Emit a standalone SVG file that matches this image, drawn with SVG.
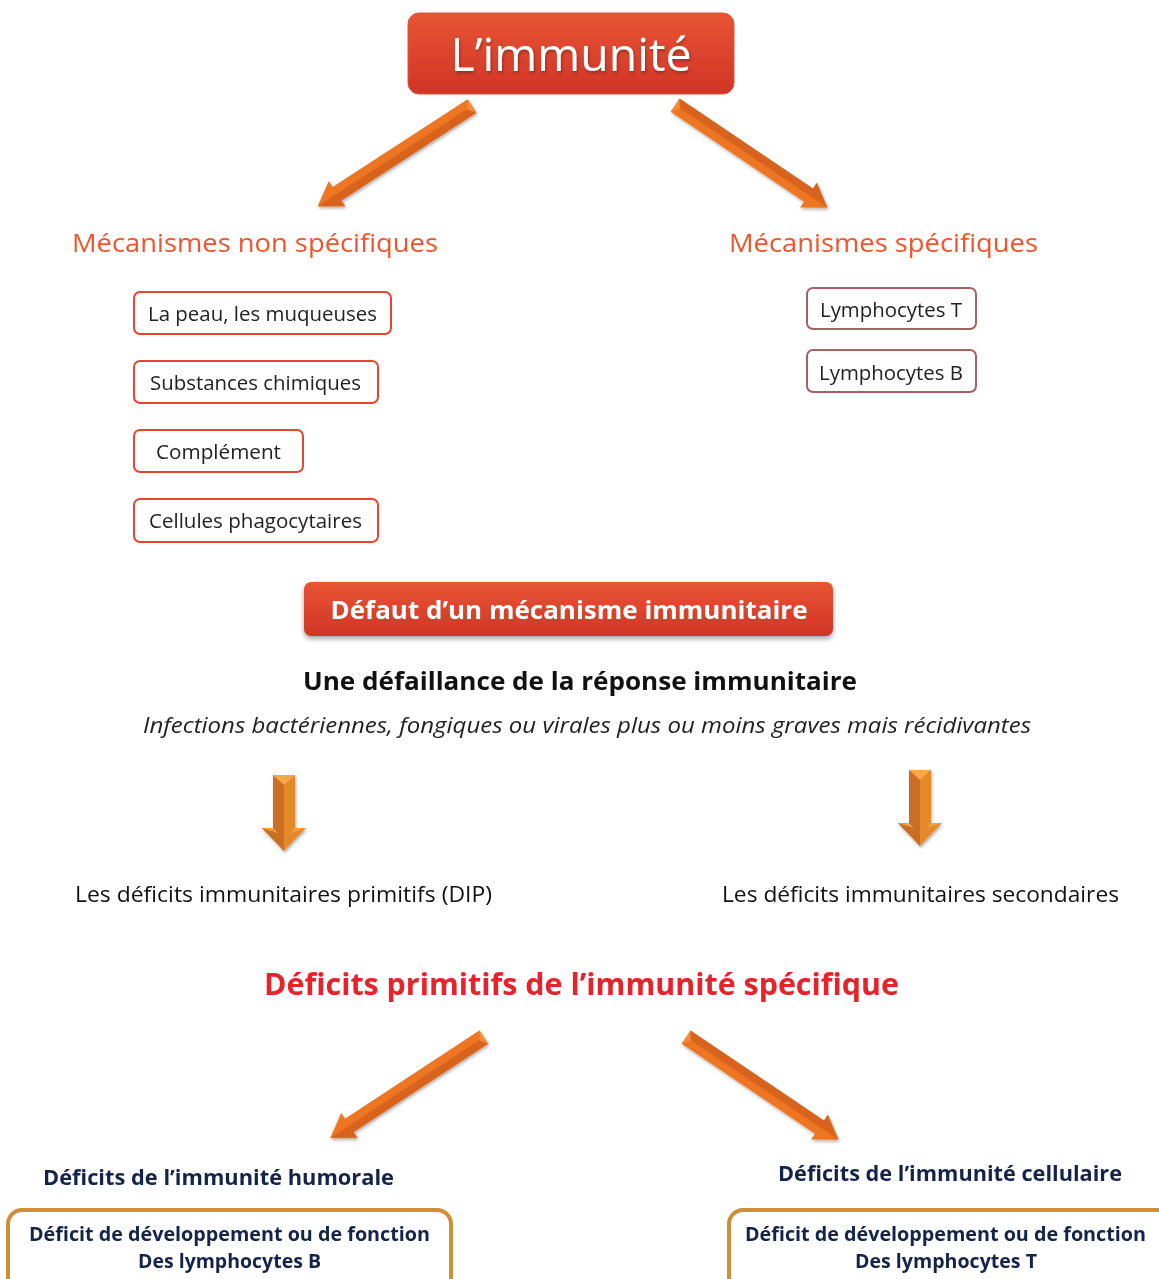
<svg xmlns="http://www.w3.org/2000/svg" width="1159" height="1279" viewBox="0 0 1159 1279">
<defs>
<linearGradient id="gRed" x1="0" y1="0" x2="0" y2="1">
<stop offset="0" stop-color="#E85535"/>
<stop offset="1" stop-color="#D03426"/>
</linearGradient>
<filter id="shadow" x="-10%" y="-20%" width="120%" height="150%">
<feDropShadow dx="0" dy="3" stdDeviation="2.5" flood-color="#000" flood-opacity="0.35"/>
</filter>
<filter id="ashadow" x="-20%" y="-40%" width="140%" height="180%">
<feDropShadow dx="1" dy="2" stdDeviation="1.5" flood-color="#000" flood-opacity="0.3"/>
</filter>
<g id="arrowD">
<polygon points="0,-8 161,-8 161,-15 184,0 161,15 161,8 0,8" fill="#EE7422"/>
<polygon points="0,-8 161,-8 161,-15 184,0 0,0" fill="#D8631E"/>
<polygon points="0,-8 6,0 0,8" fill="#F58A3A"/>
</g>
<g id="arrowV">
<polygon points="-11,0 11,0 11,53 22,53 0,76 -22,53 -11,53" fill="#E58A2C"/>
<polygon points="-11,0 0,10 0,76 -22,53 -11,53" fill="#C96E22"/>
<polygon points="-11,0 11,0 0,10" fill="#F5A84A"/>
<polygon points="-22,53 -11,53 -6,58" fill="#F3A040"/>
<polygon points="22,53 11,53 6,58" fill="#F3A040"/>
</g>
</defs>
<style>
text{font-family:"Open Sans","Liberation Sans",sans-serif;}
.orange{fill:#F0542A;font-size:26px;}
.item{fill:#222;font-size:20px;}
.redbox{fill:#fff;stroke:#E8452F;stroke-width:2;}
.brbox{fill:#fff;stroke:#A86060;stroke-width:2;}
.goldbox{fill:#fff;stroke:#D28E33;stroke-width:4;}
.plain{fill:#111;font-size:21px;}
.navy{fill:#13234A;font-weight:bold;}
</style>
<rect width="1159" height="1279" fill="#fff"/>

<g id="title">
<rect x="408" y="13" width="326" height="81" rx="11" fill="url(#gRed)" stroke="#E2553E" stroke-width="1"/>
<text x="571" y="71" text-anchor="middle" font-size="46" fill="#fff" textLength="241" lengthAdjust="spacingAndGlyphs" filter="url(#ashadow)">L’immunité</text>
</g>

<g id="connectors" filter="url(#ashadow)">
<use href="#arrowD" transform="translate(472,106) rotate(147)"/>
<use href="#arrowD" transform="translate(675,105) rotate(34)"/>
<use href="#arrowD" transform="translate(484,1037) rotate(146.7)"/>
<use href="#arrowD" transform="translate(686,1037) rotate(34)"/>
<use href="#arrowV" transform="translate(284,775)"/>
<use href="#arrowV" transform="translate(920,770)"/>
</g>

<g id="nonspec">
<text class="orange" x="72" y="252" textLength="366" lengthAdjust="spacingAndGlyphs">Mécanismes non spécifiques</text>
</g>
<g id="spec">
<text class="orange" x="729" y="252" textLength="309" lengthAdjust="spacingAndGlyphs">Mécanismes spécifiques</text>
</g>

<g id="peau">
<rect class="redbox" x="134" y="292" width="257" height="42" rx="6"/>
<text class="item" x="148" y="321" textLength="229" lengthAdjust="spacingAndGlyphs">La peau, les muqueuses</text>
</g>
<g id="substances">
<rect class="redbox" x="134" y="361" width="244" height="42" rx="6"/>
<text class="item" x="150" y="390" textLength="211" lengthAdjust="spacingAndGlyphs">Substances chimiques</text>
</g>
<g id="complement">
<rect class="redbox" x="134" y="430" width="169" height="42" rx="6"/>
<text class="item" x="156" y="459" textLength="125" lengthAdjust="spacingAndGlyphs">Complément</text>
</g>
<g id="cellules">
<rect class="redbox" x="134" y="499" width="244" height="43" rx="6"/>
<text class="item" x="149" y="528" textLength="213" lengthAdjust="spacingAndGlyphs">Cellules phagocytaires</text>
</g>

<g id="lymphoT">
<rect class="brbox" x="807" y="288" width="169" height="41" rx="6"/>
<text class="item" x="820" y="317" textLength="142" lengthAdjust="spacingAndGlyphs">Lymphocytes T</text>
</g>
<g id="lymphoB">
<rect class="brbox" x="807" y="350" width="169" height="42" rx="6"/>
<text class="item" x="819" y="380" textLength="144" lengthAdjust="spacingAndGlyphs">Lymphocytes B</text>
</g>

<g id="defaut">
<rect x="304" y="582" width="529" height="54" rx="7" fill="url(#gRed)" filter="url(#shadow)"/>
<text x="569" y="619" text-anchor="middle" font-size="25" font-weight="bold" fill="#fff" textLength="477" lengthAdjust="spacingAndGlyphs">Défaut d’un mécanisme immunitaire</text>
</g>

<g id="defaillance">
<text x="303" y="690" font-size="25" font-weight="bold" fill="#111" textLength="554" lengthAdjust="spacingAndGlyphs">Une défaillance de la réponse immunitaire</text>
<text x="143" y="733" font-size="21" font-style="italic" fill="#222" textLength="888" lengthAdjust="spacingAndGlyphs">Infections bactériennes, fongiques ou virales plus ou moins graves mais récidivantes</text>
</g>

<g id="dip">
<text class="plain" x="75" y="902" textLength="417" lengthAdjust="spacingAndGlyphs">Les déficits immunitaires primitifs (DIP)</text>
</g>
<g id="secondaires">
<text class="plain" x="722" y="902" textLength="397" lengthAdjust="spacingAndGlyphs">Les déficits immunitaires secondaires</text>
</g>

<g id="primitifs">
<text x="264" y="995" font-size="30" font-weight="bold" fill="#E8222A" textLength="635" lengthAdjust="spacingAndGlyphs">Déficits primitifs de l’immunité spécifique</text>
</g>

<g id="humorale">
<text class="navy" x="43" y="1185" font-size="21" textLength="351" lengthAdjust="spacingAndGlyphs">Déficits de l’immunité humorale</text>
<rect class="goldbox" x="8" y="1210" width="443" height="90" rx="14"/>
<text class="navy" x="29" y="1241" font-size="19" textLength="401" lengthAdjust="spacingAndGlyphs">Déficit de développement ou de fonction</text>
<text class="navy" x="138" y="1268" font-size="19" textLength="183" lengthAdjust="spacingAndGlyphs">Des lymphocytes B</text>
</g>

<g id="cellulaire">
<text class="navy" x="778" y="1181" font-size="21" textLength="344" lengthAdjust="spacingAndGlyphs">Déficits de l’immunité cellulaire</text>
<rect class="goldbox" x="729" y="1210" width="450" height="90" rx="14"/>
<text class="navy" x="745" y="1241" font-size="19" textLength="401" lengthAdjust="spacingAndGlyphs">Déficit de développement ou de fonction</text>
<text class="navy" x="855" y="1268" font-size="19" textLength="182" lengthAdjust="spacingAndGlyphs">Des lymphocytes T</text>
</g>
</svg>
